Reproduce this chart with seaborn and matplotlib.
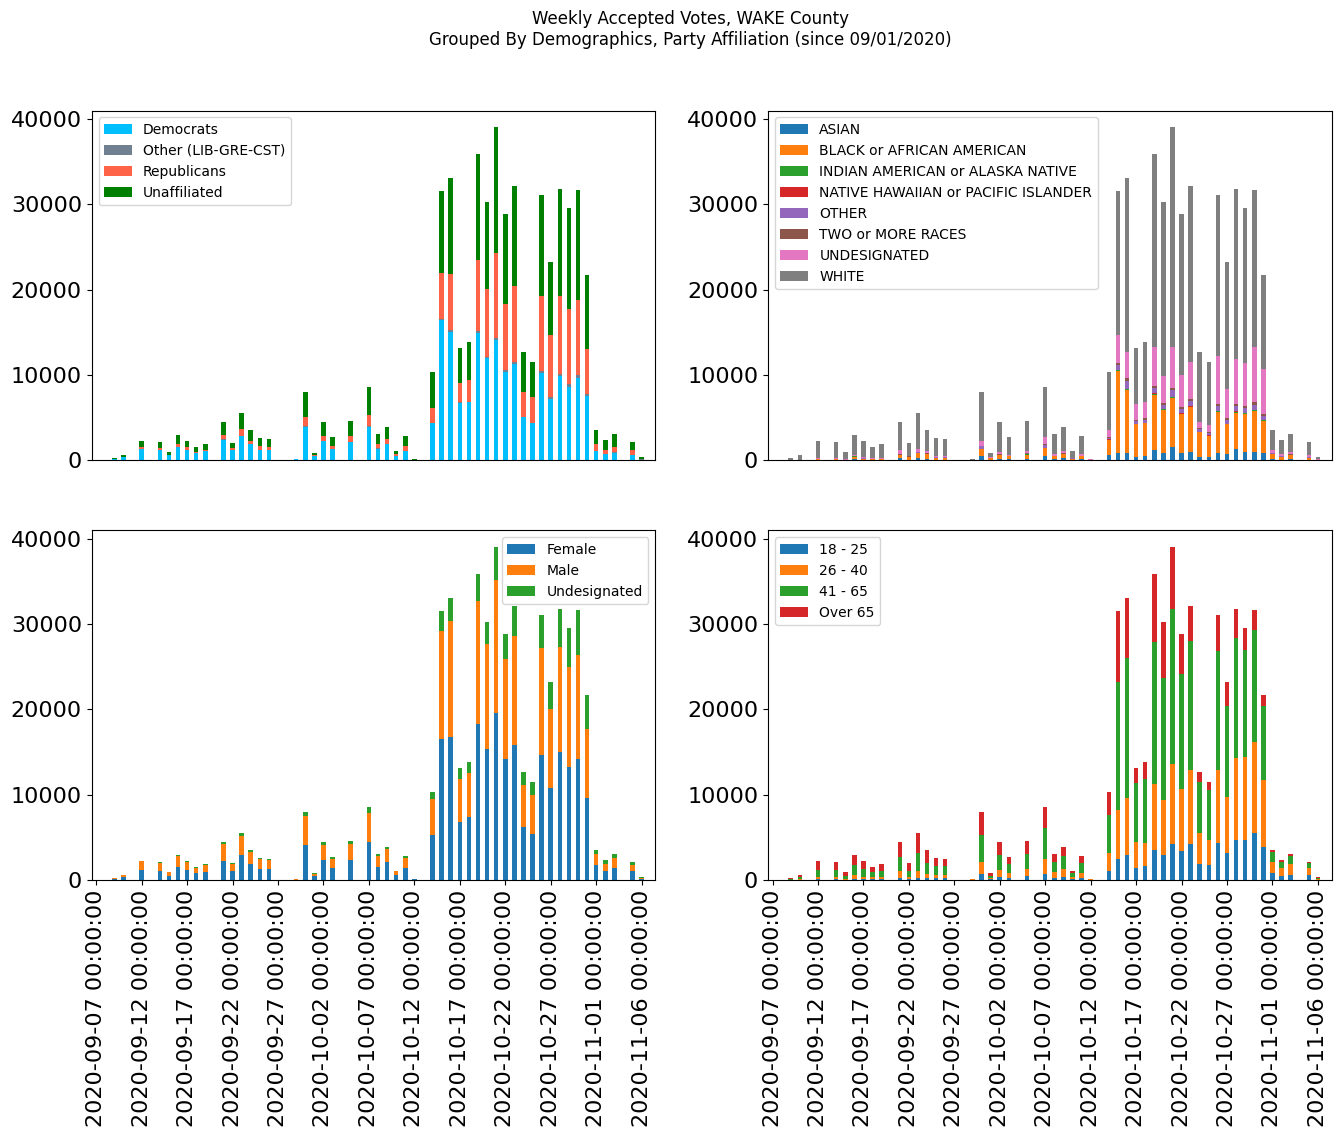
import numpy as np
import pandas as pd
import matplotlib
matplotlib.use("Agg")
import matplotlib.pyplot as plt
import seaborn as sns
from matplotlib.patches import Patch

# ---------------- data ----------------
all_days = pd.date_range("2020-09-07", "2020-11-07", freq="D")

vote_days = ["2020-09-09", "2020-09-10", "2020-09-12", "2020-09-14", "2020-09-15", "2020-09-16",
             "2020-09-17", "2020-09-18", "2020-09-19", "2020-09-21", "2020-09-22", "2020-09-23",
             "2020-09-24", "2020-09-25", "2020-09-26", "2020-09-29", "2020-09-30", "2020-10-01",
             "2020-10-02", "2020-10-03", "2020-10-05", "2020-10-07", "2020-10-08", "2020-10-09",
             "2020-10-10", "2020-10-11", "2020-10-12", "2020-10-14", "2020-10-15", "2020-10-16",
             "2020-10-17", "2020-10-18", "2020-10-19", "2020-10-20", "2020-10-21", "2020-10-22",
             "2020-10-23", "2020-10-24", "2020-10-25", "2020-10-26", "2020-10-27", "2020-10-28",
             "2020-10-29", "2020-10-30", "2020-10-31", "2020-11-01", "2020-11-02", "2020-11-03",
             "2020-11-05", "2020-11-06"]

# Party affiliation
democrats = [150, 350, 1290, 1210, 590, 1520, 1210, 820, 1055, 2420, 1210, 2850, 1880, 1250, 1250,
             100, 3870, 470, 2230, 1290, 2150, 3870, 1370, 1915, 510, 1090, 90, 4340, 16490, 15000,
             6720, 6800, 14890, 11960, 14070, 10320, 11250, 5040, 4340, 10200, 7150, 9850, 8560,
             9610, 7500, 1055, 700, 820, 590, 80]
other_party = [0, 0, 0, 0, 0, 10, 10, 0, 0, 20, 0, 20, 0, 0, 0,
               0, 100, 0, 0, 0, 0, 100, 80, 0, 0, 0, 0, 0, 120, 240,
               120, 60, 230, 160, 270, 230, 240, 40, 40, 230, 230, 230, 350,
               350, 240, 0, 0, 120, 0, 40]
republicans = [30, 30, 270, 200, 30, 350, 310, 160, 160, 490, 200, 760, 350, 390, 270,
               0, 1070, 120, 590, 350, 660, 1300, 430, 550, 190, 550, 0, 1760, 5310, 6570,
               2190, 2520, 8320, 7930, 9930, 7740, 8910, 2890, 3010, 8800, 7270, 9140, 8790,
               8790, 5280, 820, 470, 580, 590, 40]
unaffiliated = [50, 200, 660, 700, 320, 1050, 700, 550, 660, 1520, 590, 1880, 1290, 940, 940,
                20, 2930, 230, 1640, 1055, 1760, 3280, 1170, 1400, 350, 1170, 30, 4220, 9610, 11250,
                4100, 4450, 12430, 10200, 14770, 10550, 11720, 4690, 4100, 11840, 8560, 12550, 11840,
                12900, 8680, 1640, 1170, 1520, 940, 190]

# Race
asian = [0, 10, 60, 60, 20, 117, 60, 50, 60, 234, 60, 234, 117, 60, 60,
         0, 469, 60, 200, 117, 200, 469, 117, 234, 60, 117, 0, 600, 800, 900,
         400, 450, 1200, 900, 1500, 800, 1000, 400, 350, 900, 700, 1300, 1000,
         1000, 800, 117, 60, 117, 60, 20]
black = [20, 30, 120, 120, 60, 235, 150, 100, 120, 352, 352, 586, 600, 235, 235,
         30, 821, 200, 400, 350, 450, 938, 350, 470, 150, 352, 0, 1800, 9700, 7300,
         3800, 3900, 6500, 5000, 5800, 4600, 5200, 2900, 2500, 4800, 3500, 4300, 4400,
         4800, 3800, 600, 350, 450, 235, 40]
indian = [0, 0, 0, 0, 0, 120, 0, 0, 0, 0, 0, 0, 0, 0, 0,
          0, 30, 0, 0, 0, 30, 60, 0, 0, 0, 0, 0, 30, 100, 100,
          50, 50, 100, 80, 100, 80, 100, 50, 50, 100, 80, 100, 100,
          100, 80, 0, 0, 0, 0, 0]
hawaiian = [0, 0, 0, 0, 0, 0, 0, 0, 0, 0, 0, 0, 0, 0, 0,
            0, 0, 0, 0, 0, 0, 0, 0, 0, 0, 0, 0, 10, 20, 20,
            10, 10, 30, 20, 30, 20, 20, 10, 10, 20, 20, 20, 20,
            20, 20, 0, 0, 0, 0, 0]
other_race = [0, 0, 20, 20, 10, 30, 30, 20, 20, 60, 20, 120, 60, 40, 40,
              0, 300, 20, 60, 40, 80, 350, 50, 60, 20, 50, 60, 200, 500, 1000,
              300, 350, 600, 500, 800, 500, 600, 300, 250, 500, 400, 600, 600,
              600, 500, 100, 50, 80, 50, 20]
two_races = [0, 0, 10, 10, 0, 20, 20, 10, 10, 40, 20, 50, 40, 30, 30,
             0, 60, 10, 30, 20, 40, 120, 30, 40, 10, 30, 0, 100, 300, 300,
             150, 150, 300, 250, 300, 250, 250, 150, 150, 300, 200, 300, 300,
             300, 200, 50, 30, 40, 30, 10]
undesignated_race = [30, 20, 60, 80, 40, 117, 100, 60, 80, 470, 60, 350, 240, 120, 150,
                     60, 586, 40, 240, 120, 240, 821, 240, 240, 60, 180, 60, 800, 3300, 3100,
                     1900, 1900, 4500, 3100, 4800, 3700, 4300, 700, 800, 5600, 3500, 5300, 5000,
                     6400, 5300, 300, 200, 300, 200, 60]
white = [180, 520, 1950, 1820, 810, 2290, 1870, 1290, 1585, 3294, 1488, 4170, 2463, 2095, 1945,
         30, 5704, 490, 3530, 2048, 3530, 5792, 2263, 2821, 750, 2081, 0, 6780, 16810, 20340,
         6520, 7020, 22640, 20400, 25710, 18890, 20650, 8150, 7380, 18850, 14810, 19850, 18120,
         18430, 11000, 2350, 1650, 2050, 1545, 200]

# Gender
female = [117, 350, 1170, 1055, 470, 1520, 1170, 820, 940, 2230, 1055, 2930, 1880, 1290, 1290,
          30, 4100, 470, 2345, 1410, 2345, 4455, 1520, 2110, 586, 1400, 90, 5280, 16530, 16770,
          6800, 7390, 18290, 15360, 19580, 14190, 15830, 6210, 5390, 14660, 10790, 15010, 13250,
          14190, 9610, 1760, 1055, 1410, 1055, 120]
male = [110, 225, 1050, 940, 465, 1290, 940, 590, 820, 1990, 830, 2230, 1410, 1170, 1055,
        90, 3400, 235, 1760, 1055, 1875, 3400, 1290, 1520, 464, 1170, 30, 4220, 12660, 13600,
        5040, 5160, 14420, 12310, 15590, 11720, 12780, 4930, 4580, 12540, 9260, 12310, 11720,
        12190, 8090, 1290, 820, 1170, 700, 150]
undesignated_gender = [3, 5, 0, 115, 5, 120, 120, 120, 115, 230, 115, 350, 230, 120, 115,
                       0, 470, 115, 355, 230, 350, 695, 240, 235, 0, 240, 0, 820, 2340, 2690,
                       1290, 1280, 3160, 2580, 3870, 2930, 3510, 1520, 1520, 3870, 3160, 4450, 4570,
                       5270, 4000, 465, 465, 460, 365, 80]

# Age
age_18_25 = [0, 20, 117, 117, 30, 117, 117, 117, 117, 234, 117, 234, 234, 234, 234,
             10, 700, 117, 352, 234, 470, 703, 234, 352, 117, 234, 0, 1055, 2460, 2930,
             1407, 1641, 3517, 2931, 4221, 3400, 4221, 1876, 1759, 4338, 3165, 4690, 4690,
             5510, 3869, 821, 469, 586, 586, 60]
age_26_40 = [60, 100, 235, 235, 90, 470, 235, 235, 235, 820, 235, 820, 470, 350, 350,
             100, 1410, 117, 820, 587, 820, 1760, 704, 938, 235, 587, 100, 2110, 5745, 6685,
             3048, 2697, 7738, 6448, 9379, 7269, 8675, 3634, 2931, 8558, 6566, 9613, 9731,
             10669, 7855, 1289, 938, 1290, 821, 120]
age_41_65 = [60, 230, 820, 820, 350, 1170, 938, 586, 703, 1640, 703, 2110, 1290, 1055, 1055,
             10, 3165, 235, 1760, 1055, 1758, 3635, 1172, 1524, 469, 1172, 20, 4455, 15010, 16410,
             6917, 7503, 16648, 14303, 18172, 13482, 15124, 5980, 5862, 13952, 10669, 14069, 12544,
             13131, 8676, 1173, 703, 938, 586, 100]
age_over_65 = [110, 230, 1048, 938, 470, 1173, 940, 592, 820, 1756, 945, 2346, 1526, 941, 821,
               0, 2695, 351, 1528, 819, 1522, 2452, 940, 1051, 229, 817, 0, 2700, 8315, 7035,
               1758, 1989, 7967, 6568, 7268, 4689, 4100, 1170, 938, 4222, 2810, 3398, 2575,
               2340, 1300, 232, 230, 226, 127, 70]

party_names = ["Democrats", "Other (LIB-GRE-CST)", "Republicans", "Unaffiliated"]
race_names = ["ASIAN", "BLACK or AFRICAN AMERICAN", "INDIAN AMERICAN or ALASKA NATIVE",
              "NATIVE HAWAIIAN or PACIFIC ISLANDER", "OTHER", "TWO or MORE RACES",
              "UNDESIGNATED", "WHITE"]
gender_names = ["Female", "Male", "Undesignated"]
age_names = ["18 - 25", "26 - 40", "41 - 65", "Over 65"]

title = ("Weekly Accepted Votes, WAKE County\n"
         "Grouped By Demographics, Party Affiliation (since 09/01/2020)")

# ---------------- plotting ----------------
tab = sns.color_palette("tab10")
party_colors = ["deepskyblue", "slategray", "tomato", "green"]
race_colors = tab[:8]
gender_colors = tab[:3]
age_colors = tab[:4]

day_labels = [str(d) for d in all_days]
vote_index = pd.to_datetime(vote_days)


def full(values):
    s = pd.Series(values, index=vote_index, dtype=float)
    return s.reindex(all_days, fill_value=0).values


def stacked(ax, names, series, colors, loc):
    cum = np.zeros(len(all_days))
    cums = []
    for v in series:
        cum = cum + full(v)
        cums.append(cum.copy())
    # draw from the top segment down so lower segments overlay
    for c, col in reversed(list(zip(cums, colors))):
        sns.barplot(x=day_labels, y=c, order=day_labels, color=col, width=0.5,
                    saturation=1, errorbar=None, ax=ax, linewidth=0)
    handles = [Patch(facecolor=col, label=n) for n, col in zip(names, colors)]
    ax.legend(handles=handles, loc=loc, fontsize=10)
    ax.set_xlabel("")
    ax.set_ylabel("")
    ax.set_xlim(-0.5, len(all_days) - 0.5)
    ax.tick_params(axis="y", labelsize=16)
    ax.set_xticks(range(0, len(all_days), 5))


fig, axes = plt.subplots(2, 2, figsize=(13.4, 11.37), dpi=100)
stacked(axes[0, 0], party_names,
        [democrats, other_party, republicans, unaffiliated], party_colors, "upper left")
stacked(axes[0, 1], race_names,
        [asian, black, indian, hawaiian, other_race, two_races, undesignated_race, white],
        race_colors, "upper left")
stacked(axes[1, 0], gender_names,
        [female, male, undesignated_gender], gender_colors, "upper right")
stacked(axes[1, 1], age_names,
        [age_18_25, age_26_40, age_41_65, age_over_65], age_colors, "upper left")

for ax in axes[0]:
    ax.tick_params(axis="x", bottom=False, labelbottom=False)
for ax in axes[1]:
    ax.set_xticklabels([day_labels[i] for i in range(0, len(all_days), 5)],
                       rotation=90, fontsize=16)

fig.subplots_adjust(left=0.0684, right=0.9937, top=0.9028, bottom=0.226,
                    wspace=0.2, hspace=0.2)
fig.suptitle(title, fontsize=12, x=0.5155, y=0.991)
fig.savefig("out.png", dpi=100)
